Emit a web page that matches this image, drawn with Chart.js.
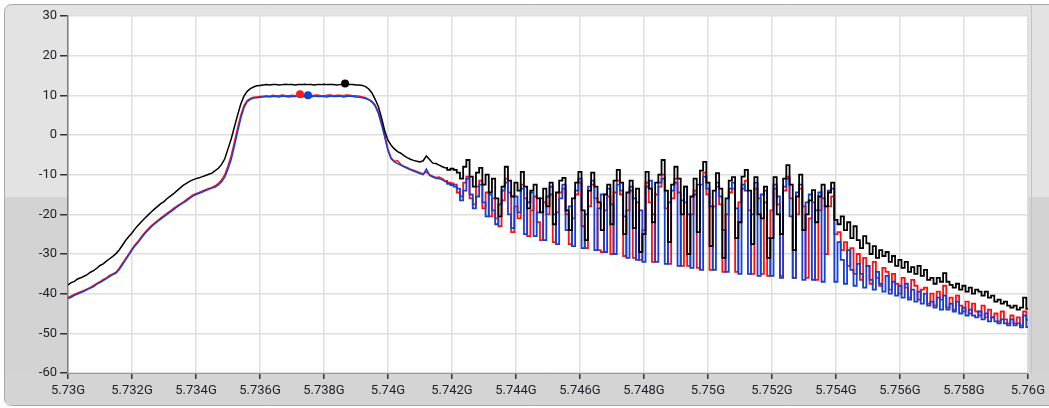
<!DOCTYPE html>
<html>
<head>
<meta charset="utf-8">
<script src="https://cdn.jsdelivr.net/npm/chart.js@4.4.1/dist/chart.umd.min.js"></script>
<style>
  html, body { margin: 0; padding: 0; background: #ffffff; }
  #wrap { width: 1049px; height: 408px; position: relative; }
</style>
</head>
<body>
<div id="wrap"><canvas id="c" width="1049" height="408"></canvas></div>
<script>
// ---- Sweep grid (GHz): 301 points, 0.1 MHz apart, 5.730 .. 5.760 ----
const freqStartGHz = 5.730;
const freqStepGHz = 0.0001;
// index where the smooth skirt ends and the spurious comb starts
const combStartIndex = 118;

// ---- Trace levels (dB) ----
const blackTraceDb = [
  -37.8,-37.2,-36.9,-36.3,-36.0,-35.6,-35.2,-34.6,-34.2,-33.6,
  -32.9,-32.5,-31.8,-31.2,-30.6,-29.9,-29.0,-27.8,-26.6,-25.6,
  -24.7,-23.6,-22.7,-21.8,-21.0,-20.2,-19.4,-18.7,-18.0,-17.3,
  -16.8,-16.0,-15.4,-14.8,-14.1,-13.4,-12.7,-12.2,-11.7,-11.3,
  -11.0,-10.8,-10.5,-10.2,-9.9,-9.6,-9.0,-8.4,-7.4,-6.0,
  -3.5,-1.0,2.0,5.0,7.8,9.8,11.0,11.7,12.1,12.4,
  12.5,12.6,12.7,12.6,12.7,12.7,12.6,12.7,12.8,12.7,
  12.7,12.6,12.7,12.7,12.8,12.7,12.7,12.6,12.7,12.7,
  12.8,12.7,12.7,12.7,12.6,12.7,12.8,12.7,12.7,12.7,
  12.6,12.6,12.5,12.2,11.6,10.6,9.0,7.2,4.3,1.0,
  -1.3,-2.6,-3.5,-4.2,-4.6,-5.2,-5.7,-6.1,-6.4,-6.6,
  -6.8,-6.5,-5.3,-6.2,-7.1,-7.2,-7.6,-8.0,-8.3,-8.8,
  -8.5,-8.8,-9.5,-11.0,-8.0,-6.3,-10.5,-13.0,-9.5,-8.3,
  -12.5,-10.0,-14.5,-11.0,-16.0,-20.5,-13.0,-8.0,-11.5,-15.5,
  -12.0,-14.0,-9.3,-13.0,-18.5,-14.0,-12.5,-16.0,-19.5,-13.5,
  -18.0,-12.0,-22.5,-14.5,-11.5,-10.8,-19.0,-24.0,-16.0,-12.0,
  -9.3,-19.0,-26.5,-14.0,-9.5,-13.0,-17.0,-24.0,-15.0,-12.5,
  -22.5,-11.5,-8.8,-12.0,-25.0,-14.5,-11.5,-23.5,-13.5,-29.5,
  -25.0,-9.3,-13.5,-22.0,-12.0,-10.0,-6.3,-14.0,-27.0,-12.5,
  -8.0,-11.0,-20.0,-13.0,-30.0,-15.5,-11.0,-24.5,-9.0,-6.8,
  -12.0,-28.0,-14.0,-9.6,-13.5,-31.0,-16.0,-11.5,-10.6,-26.0,
  -22.0,-10.5,-8.8,-14.0,-27.5,-10.6,-20.0,-21.0,-13.0,-31.0,
  -26.0,-10.6,-20.0,-25.0,-11.0,-7.6,-12.5,-29.0,-15.5,-10.0,
  -24.0,-20.0,-16.5,-13.9,-22.0,-15.5,-12.5,-18.0,-14.5,-12.0,
  -21.4,-22.5,-20.5,-24.0,-22.0,-26.0,-23.0,-26.5,-28.5,-25.5,
  -27.3,-30.0,-28.0,-31.0,-29.0,-30.5,-29.5,-32.0,-30.5,-33.0,
  -31.5,-33.5,-32.0,-34.5,-33.3,-35.0,-33.0,-35.5,-34.0,-36.5,
  -36.0,-37.5,-36.0,-37.0,-34.8,-37.0,-37.8,-38.5,-37.5,-39.0,
  -38.0,-39.5,-38.5,-40.0,-39.0,-39.5,-40.5,-39.5,-41.0,-40.5,
  -42.0,-41.5,-42.5,-42.0,-43.0,-43.5,-43.0,-44.0,-43.5,-41.0,
  -43.8
];

const redTraceDb = [
  -41.0,-40.6,-40.2,-39.8,-39.5,-39.2,-38.8,-38.4,-37.9,-37.4,
  -37.0,-36.4,-36.0,-35.4,-35.0,-34.6,-33.6,-32.4,-31.2,-30.0,
  -28.7,-27.6,-26.7,-25.6,-24.6,-23.7,-22.9,-22.2,-21.6,-20.9,
  -20.3,-19.7,-19.1,-18.5,-17.9,-17.4,-16.9,-16.3,-15.7,-15.1,
  -14.8,-14.5,-14.1,-13.8,-13.5,-13.2,-12.8,-12.2,-11.3,-10.0,
  -7.8,-5.2,-1.8,1.8,5.0,7.4,8.7,9.2,9.5,9.6,
  9.7,9.8,9.9,9.8,10.0,9.9,9.9,10.1,9.9,9.9,
  10.0,9.9,10.2,9.9,9.9,10.0,9.9,10.0,10.1,9.9,
  9.9,10.0,10.1,9.9,10.0,10.0,9.9,10.1,10.0,9.9,
  9.9,9.8,9.6,9.4,9.0,8.5,7.6,5.8,3.2,0.0,
  -3.5,-5.8,-6.6,-6.5,-7.4,-7.9,-8.2,-8.6,-8.9,-9.2,
  -9.5,-9.8,-9.3,-10.0,-10.4,-10.7,-10.6,-11.0,-11.6,-12.0,
  -12.2,-12.5,-14.5,-15.5,-12.0,-10.5,-16.0,-17.5,-13.0,-11.5,
  -18.5,-14.5,-20.5,-16.0,-21.0,-23.0,-16.5,-11.0,-14.5,-24.5,
  -18.0,-21.0,-12.5,-16.0,-25.5,-19.0,-15.5,-22.0,-26.5,-17.0,
  -20.0,-15.0,-27.0,-19.5,-14.5,-13.5,-20.0,-27.5,-21.0,-15.0,
  -12.0,-23.0,-28.5,-18.0,-12.5,-16.0,-29.0,-29.5,-19.0,-15.5,
  -30.0,-14.5,-11.5,-15.0,-30.5,-19.0,-14.0,-31.0,-17.0,-31.5,
  -24.0,-12.0,-17.0,-32.0,-15.0,-13.0,-10.0,-18.5,-32.5,-16.0,
  -11.0,-14.5,-33.0,-17.0,-33.0,-20.0,-14.0,-33.5,-12.5,-9.5,
  -15.0,-34.0,-18.0,-13.0,-17.5,-34.5,-20.0,-14.5,-13.5,-34.5,
  -17.0,-13.5,-11.5,-19.0,-35.0,-13.5,-16.0,-35.0,-17.0,-35.5,
  -19.0,-13.5,-17.5,-35.5,-14.0,-10.5,-16.0,-36.0,-20.0,-13.5,
  -18.0,-36.0,-21.0,-17.0,-36.5,-19.0,-16.0,-30.0,-18.0,-15.5,
  -25.0,-24.5,-29.0,-27.0,-33.0,-28.5,-35.0,-30.0,-36.5,-31.0,
  -33.0,-37.5,-32.0,-36.0,-38.0,-33.5,-34.5,-39.0,-35.0,-37.5,
  -40.0,-36.0,-38.5,-41.0,-36.5,-38.0,-41.5,-39.0,-38.5,-42.5,
  -40.0,-43.0,-39.5,-41.5,-38.0,-43.5,-41.0,-44.0,-40.5,-43.0,
  -44.5,-42.0,-45.0,-42.5,-44.5,-45.5,-43.0,-46.0,-44.0,-46.0,
  -45.0,-47.0,-44.5,-46.5,-47.5,-45.5,-47.5,-46.0,-48.0,-44.5,
  -46.6
];

const blueTraceDb = [
  -41.2,-40.9,-40.4,-40.1,-39.7,-39.4,-39.0,-38.6,-38.2,-37.6,
  -37.2,-36.7,-36.2,-35.7,-35.2,-34.8,-33.9,-32.7,-31.5,-30.3,
  -29.0,-27.9,-27.0,-25.9,-24.9,-24.0,-23.2,-22.5,-21.8,-21.2,
  -20.6,-20.0,-19.4,-18.8,-18.2,-17.6,-17.1,-16.6,-16.0,-15.4,
  -15.0,-14.7,-14.4,-14.0,-13.7,-13.4,-13.1,-12.6,-11.8,-10.6,
  -8.6,-6.2,-2.8,0.8,4.2,6.9,8.4,9.0,9.3,9.4,
  9.5,9.6,9.7,9.6,9.7,9.7,9.6,9.8,9.7,9.6,
  9.7,9.7,9.8,9.6,9.7,9.7,9.6,9.8,9.7,9.7,
  9.7,9.6,9.8,9.7,9.7,9.8,9.6,9.7,9.8,9.7,
  9.6,9.5,9.4,9.2,8.9,8.3,7.3,5.4,2.6,-0.6,
  -4.0,-6.0,-6.8,-7.2,-7.6,-8.0,-8.4,-8.8,-9.1,-9.4,
  -9.7,-10.0,-8.6,-10.2,-10.6,-10.9,-11.0,-11.3,-11.8,-12.3,
  -12.6,-13.0,-13.5,-16.5,-14.0,-11.0,-15.0,-18.5,-15.5,-12.5,
  -17.0,-20.5,-15.0,-19.0,-22.5,-17.5,-14.0,-12.0,-20.0,-23.5,
  -15.5,-19.5,-13.5,-25.0,-17.0,-14.5,-25.5,-19.5,-16.0,-26.5,
  -15.5,-13.0,-20.0,-27.5,-16.0,-12.5,-24.0,-18.0,-28.0,-14.0,
  -11.0,-28.5,-20.0,-13.0,-11.5,-29.0,-18.5,-15.0,-29.5,-13.5,
  -17.5,-30.0,-12.5,-14.0,-20.5,-31.0,-13.0,-16.0,-31.5,-19.0,
  -32.0,-13.0,-11.5,-20.0,-32.0,-12.0,-11.0,-32.5,-17.0,-14.0,
  -12.0,-33.0,-16.5,-13.0,-20.0,-33.5,-15.0,-12.5,-34.0,-10.5,
  -13.5,-18.0,-34.0,-12.0,-15.5,-24.0,-34.5,-13.5,-12.0,-18.5,
  -35.0,-12.5,-14.0,-35.0,-20.0,-12.0,-35.5,-15.0,-14.0,-26.0,
  -35.5,-12.5,-15.5,-36.0,-13.0,-11.0,-20.5,-36.0,-14.5,-12.5,
  -36.5,-17.0,-15.0,-36.5,-19.0,-14.5,-37.0,-18.0,-14.0,-13.5,
  -37.0,-27.0,-31.5,-37.5,-29.0,-34.0,-38.0,-32.5,-35.0,-38.5,
  -33.0,-36.5,-39.0,-34.5,-37.5,-39.5,-35.5,-40.0,-37.0,-40.5,
  -38.0,-41.0,-37.5,-41.5,-39.0,-42.0,-39.5,-42.5,-40.0,-43.0,
  -42.0,-43.5,-41.0,-44.0,-40.5,-44.0,-42.5,-44.5,-42.0,-45.0,
  -43.5,-45.5,-44.0,-45.5,-46.0,-44.5,-46.5,-45.0,-47.0,-46.0,
  -47.0,-47.5,-46.5,-47.5,-48.0,-46.5,-48.0,-47.5,-48.5,-45.5,
  -48.4
];

// ---- Marker readouts (black, red, blue) ----
const markerFreqGHz = [5.73866, 5.73725, 5.7375];
const markerLevelDb = [13.0, 10.3, 10.0];

// ---- Axis ticks ----
const xTickValuesGHz = [5.730,5.732,5.734,5.736,5.738,5.740,5.742,5.744,5.746,5.748,5.750,5.752,5.754,5.756,5.758,5.760];
const xTickLabels = ['5.73G','5.732G','5.734G','5.736G','5.738G','5.74G','5.742G','5.744G','5.746G','5.748G','5.75G','5.752G','5.754G','5.756G','5.758G','5.76G'];
const yTickValuesDb = [-60,-50,-40,-30,-20,-10,0,10,20,30];
const yTickLabels = ['-60','-50','-40','-30','-20','-10','0','10','20','30'];

const freqGHz = blackTraceDb.map((_, i) => +(freqStartGHz + i * freqStepGHz).toFixed(4));
const toPts = arr => arr.map((v, i) => ({ x: freqGHz[i], y: v }));
const smoothPart = arr => toPts(arr).slice(0, combStartIndex + 1);
const combPart = arr => toPts(arr).slice(combStartIndex);

const panelPlugin = {
  id: 'panel',
  beforeDraw(chart) {
    const { ctx, width, height, chartArea: a } = chart;
    ctx.save();
    ctx.fillStyle = '#ffffff';
    ctx.fillRect(0, 0, width, height);
    const x0 = 4.5, y0 = 4.5, x1 = width + 10, y1 = height - 2.5, r = 7;
    ctx.beginPath();
    ctx.moveTo(x0 + r, y0);
    ctx.lineTo(x1, y0);
    ctx.lineTo(x1, y1);
    ctx.lineTo(x0 + r, y1);
    ctx.arcTo(x0, y1, x0, y1 - r, r);
    ctx.lineTo(x0, y0 + r);
    ctx.arcTo(x0, y0, x0 + r, y0, r);
    ctx.closePath();
    ctx.save();
    ctx.clip();
    ctx.fillStyle = '#e3e3e3';
    ctx.fillRect(0, 0, width, 197);
    ctx.fillStyle = '#d3d3d3';
    ctx.fillRect(0, 197, width, height - 197);
    ctx.restore();
    ctx.strokeStyle = '#a8a8a8';
    ctx.lineWidth = 1;
    ctx.stroke();
    ctx.fillStyle = '#d4d4d4';
    ctx.fillRect(6, a.bottom, width - 6, height - a.bottom - 3);
    ctx.strokeStyle = '#c4c4c4';
    ctx.beginPath();
    ctx.moveTo(1031.5, 5);
    ctx.lineTo(1031.5, a.bottom);
    ctx.stroke();
    ctx.fillStyle = '#ffffff';
    ctx.fillRect(a.left, a.top, a.right - a.left, a.bottom - a.top);
    ctx.restore();
  }
};

const tickFont = { family: 'Roboto, "Liberation Sans", sans-serif', size: 13 };
const traceColors = { black: '#000000', red: '#ff1010', blue: '#1440d6' };

function traceSets(arr, color, order) {
  return [
    { data: smoothPart(arr), borderColor: color, borderWidth: 1.5, pointRadius: 0, tension: 0, fill: false, order },
    { data: combPart(arr), borderColor: color, borderWidth: 1.8, pointRadius: 0, stepped: 'middle', fill: false, order }
  ];
}

new Chart(document.getElementById('c'), {
  type: 'line',
  data: {
    datasets: [
      {
        type: 'scatter',
        data: markerFreqGHz.map((f, i) => ({ x: f, y: markerLevelDb[i] })),
        showLine: false,
        pointRadius: 4,
        pointBorderWidth: 0,
        pointBackgroundColor: ['#000000', '#ff1a1a', '#1040d8'],
        order: 0
      },
      ...traceSets(blackTraceDb, traceColors.black, 1),
      ...traceSets(blueTraceDb, traceColors.blue, 2),
      ...traceSets(redTraceDb, traceColors.red, 3)
    ]
  },
  options: {
    responsive: false,
    animation: false,
    parsing: false,
    normalized: true,
    layout: { padding: { left: 0, top: 16, right: 21, bottom: 0 } },
    plugins: { legend: { display: false }, tooltip: { enabled: false } },
    scales: {
      x: {
        type: 'linear',
        min: 5.730,
        max: 5.760,
        afterFit: s => { s.height = 35; },
        afterBuildTicks: s => { s.ticks = xTickValuesGHz.map(v => ({ value: v })); },
        ticks: {
          autoSkip: false,
          maxRotation: 0,
          padding: 4,
          color: '#1e1e28',
          font: tickFont,
          callback: (v, i) => xTickLabels[i]
        },
        grid: { color: '#dedede', lineWidth: 1.5, tickColor: '#333333', tickLength: 6 },
        border: { color: '#9a9a9a', width: 1 }
      },
      y: {
        type: 'linear',
        min: -60,
        max: 30,
        afterFit: s => { s.width = 68; },
        afterBuildTicks: s => { s.ticks = yTickValuesDb.map(v => ({ value: v })); },
        ticks: {
          autoSkip: false,
          padding: 3,
          color: '#1e1e28',
          font: tickFont,
          callback: (v, i) => yTickLabels[i]
        },
        grid: { color: '#dedede', lineWidth: 1.5, tickColor: '#333333', tickLength: 8 },
        border: { color: '#808080', width: 1.5 }
      }
    }
  },
  plugins: [panelPlugin]
});
</script>
</body>
</html>
